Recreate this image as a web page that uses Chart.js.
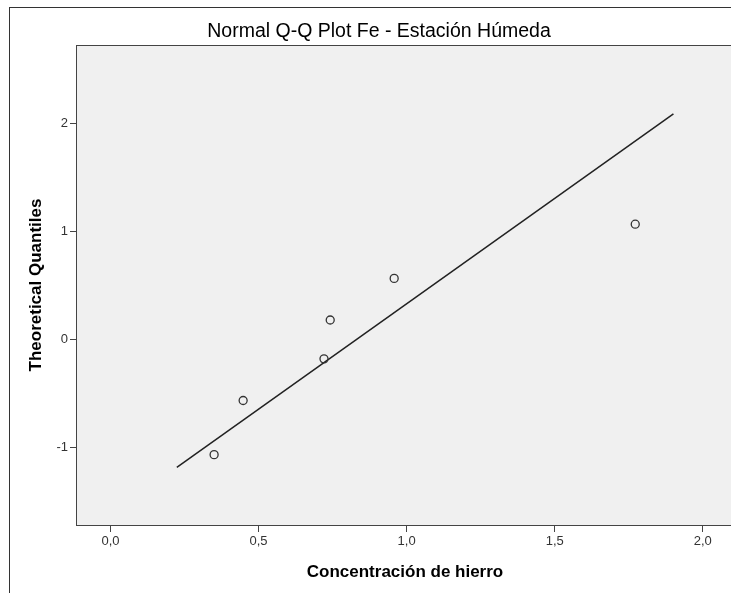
<!DOCTYPE html>
<html>
<head>
<meta charset="utf-8">
<script src="https://cdn.jsdelivr.net/npm/chart.js@4/dist/chart.umd.min.js"></script>
<style>
html,body{margin:0;padding:0;overflow:hidden;background:#fff;width:731px;height:593px;}
#wrap{position:absolute;left:0;top:0;width:770px;height:593px;}
</style>
</head>
<body>
<div id="wrap"><canvas id="c" width="770" height="593"></canvas></div>
<script>
// Observed values (Concentración de hierro) and theoretical quantiles
const observedValues = [0.350, 0.448, 0.721, 0.742, 0.958, 1.772];
const theoreticalQuantiles = [-1.068, -0.566, -0.180, 0.180, 0.566, 1.068];
// Reference line end points
const lineX = [0.224, 1.901];
const lineY = [-1.185, 2.090];
// Tick values
const xTickValues = [0.0, 0.5, 1.0, 1.5, 2.0];
const yTickValues = [-1, 0, 1, 2];
const chartTitle = 'Normal Q-Q Plot Fe - Estación Húmeda';
const xTitle = 'Concentración de hierro';
const yTitle = 'Theoretical Quantiles';

const FONT = '"Liberation Sans", Arial, sans-serif';

const decor = {
  id: 'decor',
  beforeDraw(chart) {
    const {ctx, chartArea: a} = chart;
    ctx.save();
    ctx.fillStyle = '#ffffff';
    ctx.fillRect(0, 0, chart.width, chart.height);
    // outer frame
    ctx.strokeStyle = '#333';
    ctx.lineWidth = 1;
    ctx.strokeRect(9.5, 7.5, 800, 700);
    // plot background
    ctx.fillStyle = '#f0f0f0';
    ctx.fillRect(a.left, a.top, a.right - a.left, a.bottom - a.top);
    ctx.restore();
  },
  afterDraw(chart) {
    const {ctx, chartArea: a} = chart;
    ctx.save();
    ctx.strokeStyle = '#444';
    ctx.lineWidth = 1;
    ctx.strokeRect(a.left - 0.5, a.top - 0.5, a.right - a.left + 1, a.bottom - a.top + 1);
    ctx.fillStyle = '#000';
    ctx.textAlign = 'center';
    ctx.textBaseline = 'middle';
    ctx.font = '19.5px ' + FONT;
    ctx.fillText(chartTitle, 379, 32);
    ctx.font = 'bold 17px ' + FONT;
    ctx.fillText(xTitle, 405, 572);
    ctx.translate(36, 285);
    ctx.rotate(-Math.PI / 2);
    ctx.fillText(yTitle, 0, 0);
    ctx.restore();
  }
};

new Chart(document.getElementById('c'), {
  type: 'scatter',
  data: {
    datasets: [
      {
        type: 'line',
        data: lineX.map((x, i) => ({x, y: lineY[i]})),
        borderColor: '#222',
        borderWidth: 1.5,
        pointRadius: 0,
        fill: false,
        order: 2
      },
      {
        data: observedValues.map((x, i) => ({x, y: theoreticalQuantiles[i]})),
        pointRadius: 4,
        pointBorderWidth: 1.3,
        pointBorderColor: '#333',
        pointBackgroundColor: 'rgba(0,0,0,0)',
        order: 1
      }
    ]
  },
  plugins: [decor],
  options: {
    responsive: false,
    animation: false,
    events: [],
    layout: {padding: {top: 46, right: 8, left: 0, bottom: 0}},
    plugins: {legend: {display: false}, tooltip: {enabled: false}, title: {display: false}},
    scales: {
      x: {
        type: 'linear',
        min: -0.113,
        max: 2.2,
        afterFit(s) { s.height = 68; },
        afterBuildTicks(s) { s.ticks = xTickValues.map(v => ({value: v})); },
        grid: {drawOnChartArea: false, drawTicks: true, tickLength: 7, color: '#444', lineWidth: 1},
        border: {display: false},
        ticks: {
          color: '#333',
          padding: 2,
          font: {family: FONT, size: 13},
          callback: v => v.toFixed(1).replace('.', ',')
        }
      },
      y: {
        type: 'linear',
        min: -1.72,
        max: 2.72,
        afterFit(s) { s.width = 77; },
        afterBuildTicks(s) { s.ticks = yTickValues.map(v => ({value: v})); },
        grid: {drawOnChartArea: false, drawTicks: true, tickLength: 7, color: '#444', lineWidth: 1},
        border: {display: false},
        ticks: {
          color: '#333',
          padding: 2,
          font: {family: FONT, size: 13},
          callback: v => String(v)
        }
      }
    }
  }
});
</script>
</body>
</html>
